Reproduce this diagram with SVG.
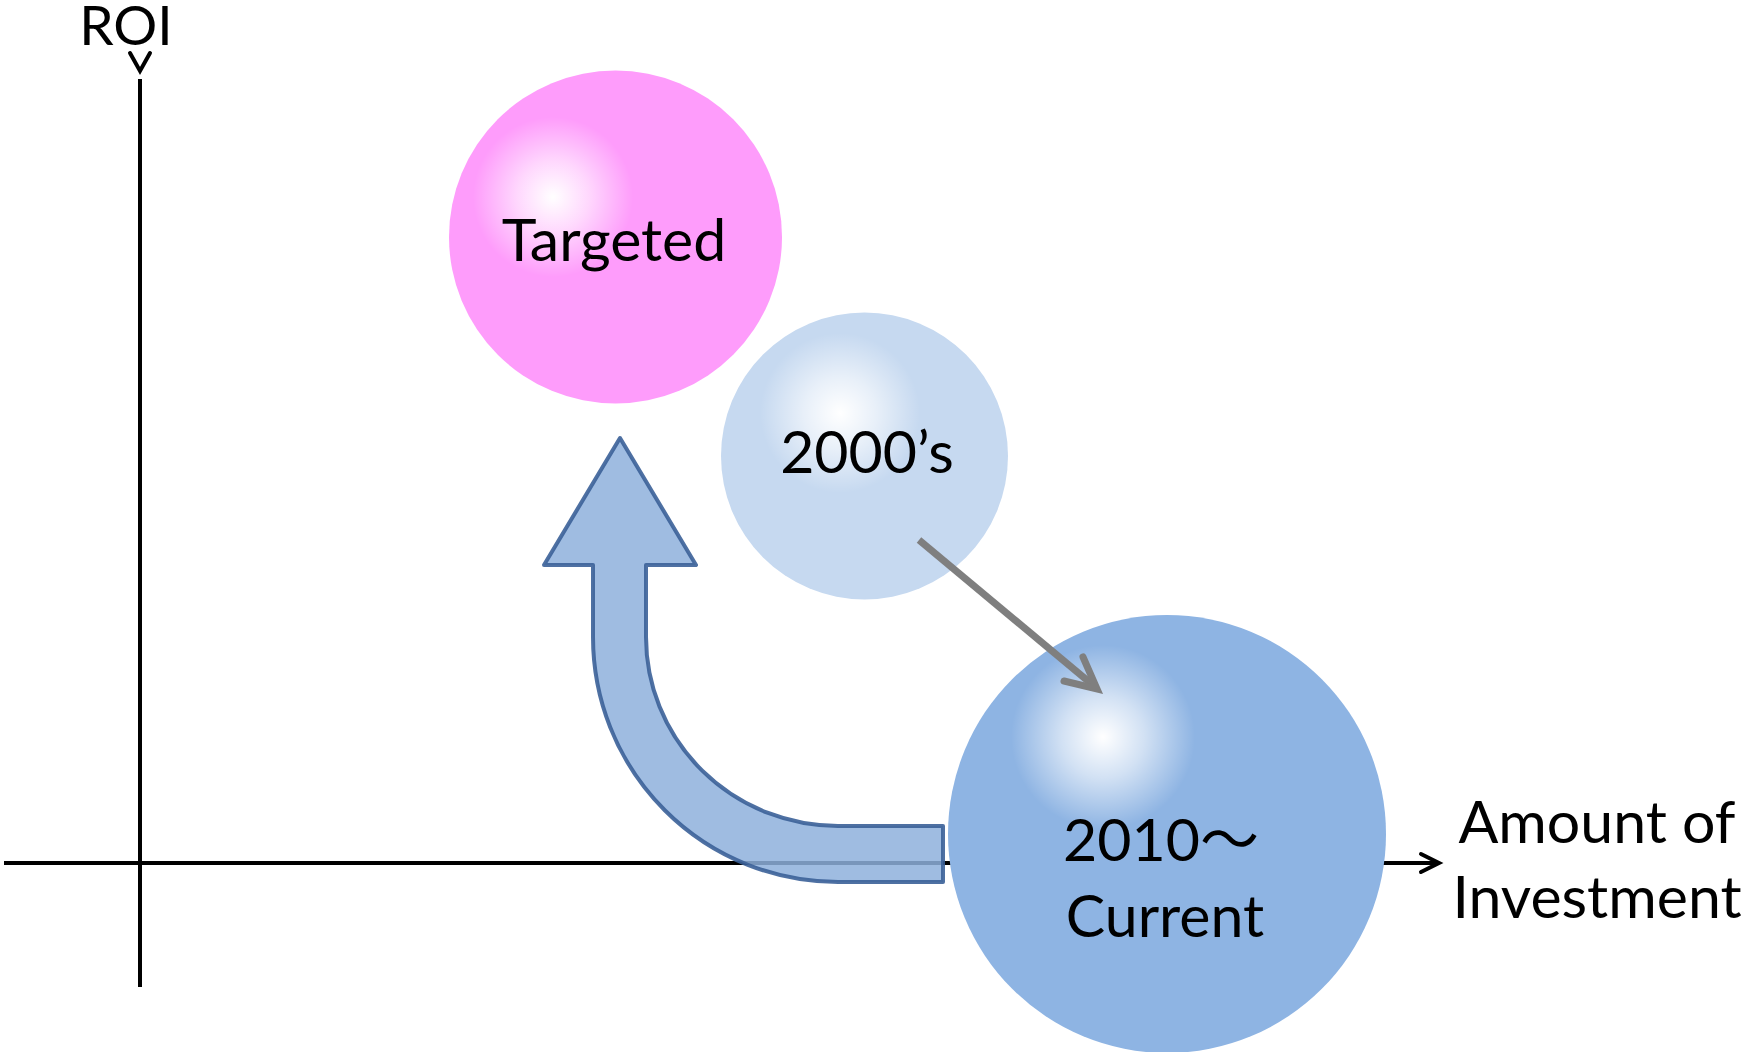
<svg xmlns="http://www.w3.org/2000/svg" width="1745" height="1052" viewBox="0 0 1745 1052">
  <style>
    .lbl { font-family: Lato, "Open Sans", "Noto Sans CJK JP", sans-serif; fill: #000; text-anchor: middle; font-size: 59px; }
    .axis { stroke: #000; stroke-width: 4; fill: none; }
    .tip { stroke: #000; stroke-width: 4; fill: none; stroke-linecap: round; stroke-linejoin: miter; }
  </style>
  <defs>
    <radialGradient id="shine">
      <stop offset="0" stop-color="#ffffff" stop-opacity="1"/>
      <stop offset="0.45" stop-color="#ffffff" stop-opacity="0.6"/>
      <stop offset="1" stop-color="#ffffff" stop-opacity="0"/>
    </radialGradient>
  </defs>
  <rect width="1745" height="1052" fill="#ffffff"/>

  <!-- axes -->
  <g id="axes">
    <line class="axis" x1="140" y1="79" x2="140" y2="987"/>
    <polyline class="tip" points="130,53 140,71 150,53"/>
    <text class="lbl" x="126" y="45" style="font-size:55px">ROI</text>
    <line class="axis" x1="4" y1="863" x2="1438" y2="863"/>
    <polyline class="tip" points="1421,854 1439,863 1421,872"/>
    <text class="lbl" x="1597" y="843">Amount of</text>
    <text class="lbl" x="1597" y="918">Investment</text>
  </g>

  <!-- connectors -->
  <g id="connectors">
    <path id="curved-arrow" d="M620,438 L696,565 L646,565 L646,637 A192,189 0 0 0 838,826 L943,826 L943,882 L838,882 A245,245 0 0 1 593,637 L593,565 L544,565 Z" fill="#8eb0dc" fill-opacity="0.85" stroke="#3b6198" stroke-width="4" stroke-opacity="0.9" stroke-linejoin="round"/>
  </g>

  <g id="targeted">
    <circle cx="615.5" cy="237" r="166.5" fill="#fe9cfb"/>
    <circle cx="553" cy="197" r="80" fill="url(#shine)"/>
    <text class="lbl" x="614" y="261">Targeted</text>
  </g>

  <g id="y2000s">
    <circle cx="864.5" cy="456" r="143.5" fill="#c6d9f0"/>
    <circle cx="840" cy="413" r="80" fill="url(#shine)"/>
    <text class="lbl" x="867" y="473">2000’s</text>
  </g>

  <g id="current">
    <circle cx="1167" cy="834" r="219" fill="#8eb4e3"/>
    <circle cx="1103" cy="737" r="92" fill="url(#shine)"/>
    <text class="lbl" x="1161" y="861">2010〜</text>
    <text class="lbl" x="1165" y="937">Current</text>
  </g>

  <g id="trend-arrow">
    <line x1="919" y1="540" x2="1094" y2="686" stroke="#7f7f7f" stroke-width="7"/>
    <polyline points="1083,657 1097,689 1064,681" fill="none" stroke="#7f7f7f" stroke-width="7" stroke-linecap="round" stroke-linejoin="miter"/>
  </g>
</svg>
